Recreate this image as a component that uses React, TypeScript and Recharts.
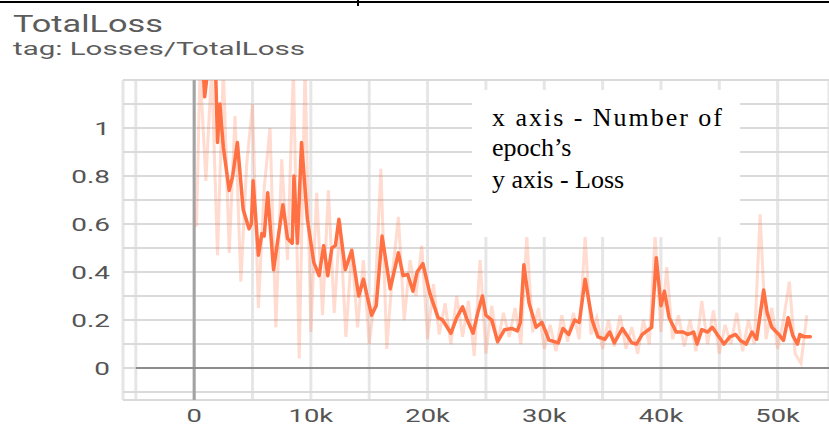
import React from 'react';
import {
  LineChart,
  Line,
  XAxis,
  YAxis,
  CartesianGrid,
  ReferenceLine
} from 'recharts';

// [step (k), loss]
const rawPoints: [number, number][] = [
  [0.2, 0.59], [0.5, 1.25], [1, 0.78], [1.5, 1.25], [2, 0.47], [2.5, 1.25], [3, 0.48], [3.5, 1.05],
  [4, 0.36], [4.5, 0.85], [5, 1.1], [5.5, 0.25], [6, 0.75], [6.5, 1.0], [7, 0.17], [7.5, 0.87],
  [8, 0.45], [8.5, 1.25], [9, 0.04], [9.5, 1.25], [10, 0.15], [10.5, 0.73], [11, 0.22], [11.5, 0.74],
  [12, 0.23], [12.5, 0.61], [13, 0.13], [13.5, 0.5], [14, 0.17], [14.5, 0.45], [15, 0.1], [15.5, 0.3],
  [16, 0.83], [16.5, 0.08], [17, 0.4], [17.5, 0.63], [18, 0.2], [18.5, 0.45], [19, 0.3], [19.5, 0.51],
  [20, 0.12], [20.5, 0.35], [21, 0.14], [21.5, 0.27], [22, 0.1], [22.5, 0.3], [23, 0.13], [23.5, 0.28],
  [24, 0.05], [24.5, 0.45], [25, 0.06], [25.5, 0.26], [26, 0.1], [26.5, 0.23], [27, 0.13], [27.5, 0.25],
  [28, 0.1], [28.5, 0.55], [29, 0.15], [29.5, 0.25], [30, 0.08], [30.5, 0.18], [31, 0.07], [31.5, 0.22],
  [32, 0.11], [32.5, 0.23], [33, 0.12], [33.5, 0.55], [34, 0.14], [34.5, 0.21], [35, 0.08], [35.5, 0.2],
  [36, 0.09], [36.5, 0.22], [37, 0.08], [37.5, 0.17], [38, 0.06], [38.5, 0.2], [39, 0.1], [39.5, 0.55],
  [40, 0.15], [40.5, 0.42], [41, 0.12], [41.5, 0.22], [42, 0.09], [42.5, 0.2], [43, 0.07], [43.5, 0.28],
  [44, 0.1], [44.5, 0.24], [45, 0.06], [45.5, 0.18], [46, 0.1], [46.5, 0.23], [47, 0.07], [47.5, 0.2],
  [48, 0.1], [48.5, 0.64], [49, 0.12], [49.5, 0.25], [50, 0.08], [50.5, 0.2], [51, 0.36], [51.5, 0.06],
  [52, 0.02], [52.5, 0.22]
];

const smoothPoints: [number, number][] = [
  [0.7, 1.3], [0.9, 1.13], [1.3, 1.3], [1.8, 1.3], [2.0, 0.94], [2.2, 1.1], [2.5, 0.92], [3.0, 0.74],
  [3.3, 0.8], [3.7, 0.94], [4.2, 0.66], [4.7, 0.58], [4.9, 0.6], [5.05, 0.78], [5.5, 0.47], [5.8, 0.56],
  [6.0, 0.55], [6.3, 0.73], [6.8, 0.41], [7.6, 0.68], [8.0, 0.54], [8.4, 0.52], [8.55, 0.8], [8.85, 0.52],
  [9.2, 0.94], [9.7, 0.62], [10.25, 0.44], [10.7, 0.385], [11.1, 0.51], [11.45, 0.385], [11.8, 0.5],
  [12.1, 0.51], [12.4, 0.62], [12.95, 0.41], [13.5, 0.49], [14.1, 0.3], [14.5, 0.37], [15.2, 0.22],
  [15.6, 0.26], [16.1, 0.55], [16.8, 0.33], [17.5, 0.48], [17.9, 0.385], [18.3, 0.39], [18.75, 0.32],
  [19.1, 0.4], [19.6, 0.435], [20.2, 0.31], [20.9, 0.21], [21.3, 0.2], [22.0, 0.145], [22.5, 0.21],
  [23.0, 0.255], [23.4, 0.2], [23.9, 0.145], [24.3, 0.23], [24.7, 0.3], [25.0, 0.22], [25.5, 0.2],
  [26.0, 0.11], [26.6, 0.16], [27.2, 0.165], [27.7, 0.155], [27.95, 0.19], [28.25, 0.43], [28.7, 0.27],
  [29.3, 0.17], [29.8, 0.19], [30.4, 0.117], [31.2, 0.105], [31.6, 0.165], [32.1, 0.14], [32.6, 0.2],
  [33.0, 0.19], [33.5, 0.37], [34.1, 0.2], [34.6, 0.13], [35.2, 0.12], [35.6, 0.15], [36.0, 0.105],
  [36.7, 0.165], [37.5, 0.105], [37.9, 0.1], [38.4, 0.14], [38.8, 0.155], [39.2, 0.17], [39.6, 0.46],
  [40.0, 0.26], [40.3, 0.32], [40.7, 0.21], [41.3, 0.15], [41.9, 0.15], [42.3, 0.14], [42.8, 0.15],
  [43.1, 0.1], [43.5, 0.16], [44.0, 0.15], [44.4, 0.17], [44.9, 0.135], [45.4, 0.1], [45.9, 0.13],
  [46.4, 0.14], [46.8, 0.115], [47.3, 0.1], [47.8, 0.15], [48.2, 0.12], [48.8, 0.325], [49.1, 0.23],
  [49.5, 0.17], [50.1, 0.14], [50.5, 0.115], [50.9, 0.21], [51.3, 0.135], [51.7, 0.1], [51.9, 0.14],
  [52.3, 0.13], [52.8, 0.13]
];

const yTicks = [-0.1, 0, 0.1, 0.2, 0.3, 0.4, 0.5, 0.6, 0.7, 0.8, 0.9, 1, 1.1, 1.2];
const yTickLabels = ['', '0', '', '0.2', '', '0.4', '', '0.6', '', '0.8', '', '1', '', ''];
const xTicks = [-5000, 0, 5000, 10000, 15000, 20000, 25000, 30000, 35000, 40000, 45000, 50000];
const xTickLabels = ['', '0', '', '10k', '', '20k', '', '30k', '', '40k', '', '50k'];

const ORANGE = '#ff7043';
const TICK_FONT = 'Roboto, sans-serif';

// merge both series on step so one LineChart can hold them
const byStep = new Map<number, { step: number; raw?: number; smooth?: number }>();
rawPoints.forEach(([k, v]) => {
  const s = Math.round(k * 1000);
  byStep.set(s, { ...(byStep.get(s) || { step: s }), raw: v });
});
smoothPoints.forEach(([k, v]) => {
  const s = Math.round(k * 1000);
  byStep.set(s, { ...(byStep.get(s) || { step: s }), smooth: v });
});
const data = Array.from(byStep.values()).sort((a, b) => a.step - b.step);

const YTick = (props: any) => {
  const { x, y, payload } = props;
  const label = yTickLabels[yTicks.indexOf(payload.value)];
  if (!label) return null;
  return (
    <g transform={`translate(${x},${y})`}>
      <text transform="scale(1.47,1)" textAnchor="end" dy="0.355em" fontSize={19} fontFamily={TICK_FONT} fill="#555">
        {label}
      </text>
    </g>
  );
};

const XTick = (props: any) => {
  const { x, y, payload } = props;
  const label = xTickLabels[xTicks.indexOf(payload.value)];
  if (!label) return null;
  return (
    <g transform={`translate(${x},${y + 22})`}>
      <text transform="scale(1.52,1)" textAnchor="middle" fontSize={18} fontFamily={TICK_FONT} fill="#555">
        {label}
      </text>
    </g>
  );
};

export default function App() {
  return (
    <div style={{ position: 'absolute', left: 0, top: 0, width: 829, height: 428, background: '#fff', overflow: 'hidden' }}>
      <LineChart width={829} height={428} data={data} margin={{ top: 80, right: 0, bottom: 0, left: 0 }}>
        <CartesianGrid horizontal={false} stroke="#e6e6e6" strokeWidth={3} />
        <CartesianGrid vertical={false} stroke="#dadada" strokeWidth={2} />
        <XAxis
          type="number"
          dataKey="step"
          domain={[-6100, 54400]}
          ticks={xTicks}
          allowDataOverflow
          axisLine={false}
          tickLine={false}
          tickSize={0}
          tickMargin={0}
          height={28}
          tick={<XTick />}
        />
        <YAxis
          type="number"
          domain={[-0.133, 1.2]}
          ticks={yTicks}
          allowDataOverflow
          axisLine={false}
          tickLine={false}
          tickSize={0}
          tickMargin={13}
          width={123}
          tick={<YTick />}
        />
        <ReferenceLine x={0} stroke="#a3a3a3" strokeWidth={3} />
        <ReferenceLine segment={[{ x: -5000, y: 0 }, { x: 54400, y: 0 }]} stroke="#8c8c8c" strokeWidth={2} />
        <Line
          dataKey="raw"
          type="linear"
          stroke={ORANGE}
          strokeOpacity={0.25}
          strokeWidth={3}
          dot={false}
          connectNulls
          isAnimationActive={false}
        />
        <Line
          dataKey="smooth"
          type="linear"
          stroke={ORANGE}
          strokeWidth={3.5}
          strokeLinejoin="round"
          strokeLinecap="round"
          dot={false}
          connectNulls
          isAnimationActive={false}
        />
      </LineChart>

      <svg width={829} height={428} style={{ position: 'absolute', left: 0, top: 0, pointerEvents: 'none' }}>
        <rect x={0} y={1} width={829} height={2} fill="#000" />
        <rect x={357} y={0} width={2} height={6} fill="#000" />
        <text x={13} y={32} fontSize={23} fontFamily={TICK_FONT} fill="#5c5c5c" textLength={150} lengthAdjust="spacingAndGlyphs">
          TotalLoss
        </text>
        <text x={13} y={55} fontSize={18} fontFamily={TICK_FONT} fill="#5c5c5c" textLength={292} lengthAdjust="spacingAndGlyphs">
          tag: Losses/TotalLoss
        </text>
        <rect x={472} y={90} width={268} height={147} fill="#fff" />
        <g fontFamily="'Liberation Serif', 'Times New Roman', serif" fontSize={26} fill="#000">
          <text x={492} y={126} textLength={230} lengthAdjust="spacing">x axis - Number of</text>
          <text x={492} y={156}>epoch’s</text>
          <text x={492} y={188}>y axis - Loss</text>
        </g>
      </svg>
    </div>
  );
}
